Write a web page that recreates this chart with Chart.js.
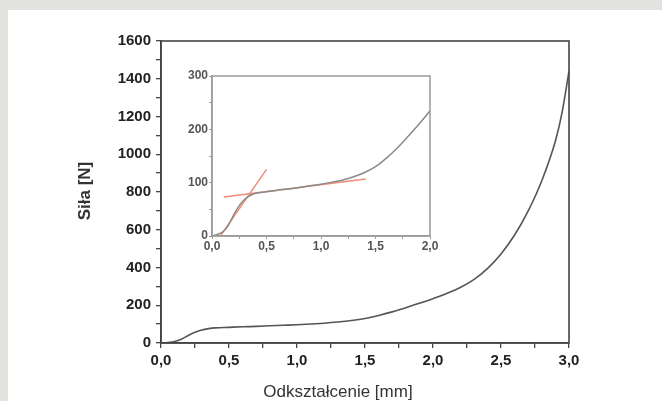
<!DOCTYPE html>
<html>
<head>
<meta charset="utf-8">
<script src="https://cdn.jsdelivr.net/npm/chart.js@4/dist/chart.umd.min.js"></script>
<style>
  html, body { margin: 0; padding: 0; }
  body { width: 662px; height: 401px; background: #e2e2de; position: relative; overflow: hidden; }
  #panel { position: absolute; left: 8px; top: 10px; right: 0; bottom: 0; background: #fff; }
  #main { position: absolute; left: 0; top: 0; }
  #inset { position: absolute; left: 160px; top: 66px; }
</style>
</head>
<body>
<div id="panel"></div>
<canvas id="main" width="662" height="401"></canvas>
<canvas id="inset" width="290" height="190"></canvas>
<script>
// deformation [mm] and force [N]
const deformation = [0, 0.05, 0.1, 0.15, 0.2, 0.25, 0.3, 0.35, 0.4, 0.5, 0.6, 0.7, 0.8, 0.9, 1.0,
  1.1, 1.2, 1.3, 1.4, 1.5, 1.6, 1.7, 1.8, 1.9, 2.0, 2.1, 2.2, 2.3, 2.4, 2.5, 2.6, 2.7, 2.8, 2.9, 2.95, 3.0];
const force = [0, 3, 8, 20, 40, 57, 69, 76, 80, 83, 86, 88, 91, 94, 97,
  101, 105, 111, 119, 130, 146, 165, 187, 210, 235, 262, 294, 336, 394, 472, 572, 700, 860, 1070, 1225, 1440];

// two red fit lines in the inset
const fitSteepX = [0.077, 0.5];
const fitSteepY = [0, 125];
const fitFlatX = [0.108, 1.41];
const fitFlatY = [73, 107];

const xTitle = "Odkształcenie [mm]";
const yTitle = "Siła [N]";

function toPoints(xs, ys) {
  return xs.map((x, i) => ({ x: x, y: ys[i] }));
}

function commaLabel(step) {
  return function (v) {
    const k = v / step;
    if (Math.abs(k - Math.round(k)) > 1e-6) return "";
    return v.toFixed(1).replace(".", ",");
  };
}

function intLabel(step) {
  return function (v) {
    return Math.abs(v % step) < 1e-6 ? String(v) : "";
  };
}

// box around the plot area
const framePlugin = {
  id: "frame",
  afterDraw(chart, args, opts) {
    const a = chart.chartArea;
    const ctx = chart.ctx;
    ctx.save();
    ctx.strokeStyle = opts.color;
    ctx.lineWidth = opts.width;
    ctx.strokeRect(a.left, a.top, a.right - a.left, a.bottom - a.top);
    ctx.restore();
  },
};

// axis titles of the main chart
const titlesPlugin = {
  id: "titles",
  afterDraw(chart) {
    const ctx = chart.ctx;
    ctx.save();
    ctx.fillStyle = "#333";
    ctx.textAlign = "center";
    ctx.textBaseline = "middle";
    ctx.font = "17px 'Liberation Sans', Arial, sans-serif";
    ctx.fillText(xTitle, 338, 392);
    ctx.translate(85, 191);
    ctx.rotate(-Math.PI / 2);
    ctx.font = "bold 17px 'Liberation Sans', Arial, sans-serif";
    ctx.fillText(yTitle, 0, 0);
    ctx.restore();
  },
};

Chart.defaults.font.family = "'Liberation Sans', Arial, sans-serif";
Chart.defaults.animation = false;

const mainAxisColor = "#444";

new Chart(document.getElementById("main"), {
  type: "line",
  data: {
    datasets: [
      {
        data: toPoints(deformation, force),
        borderColor: "#555",
        borderWidth: 1.6,
        pointRadius: 0,
        cubicInterpolationMode: "monotone",
      },
    ],
  },
  options: {
    responsive: false,
    layout: { padding: { left: 0, top: 41, right: 93, bottom: 0 } },
    plugins: {
      legend: { display: false },
      tooltip: { enabled: false },
      frame: { color: mainAxisColor, width: 1.6 },
    },
    scales: {
      x: {
        type: "linear",
        min: 0,
        max: 3,
        afterFit: (s) => { s.height = 58; },
        grid: { drawOnChartArea: false, tickLength: 5, color: mainAxisColor, lineWidth: 1.3 },
        border: { color: mainAxisColor, width: 1.6 },
        ticks: {
          stepSize: 0.25,
          autoSkip: false,
          maxRotation: 0,
          padding: 4,
          color: "#222",
          font: { size: 15, weight: "bold" },
          callback: commaLabel(0.5),
        },
      },
      y: {
        min: 0,
        max: 1600,
        afterFit: (s) => { s.width = 161; },
        grid: { drawOnChartArea: false, tickLength: 5, color: mainAxisColor, lineWidth: 1.3 },
        border: { color: mainAxisColor, width: 1.6 },
        ticks: {
          stepSize: 100,
          autoSkip: false,
          padding: 5,
          color: "#222",
          font: { size: 15, weight: "bold" },
          callback: intLabel(200),
        },
      },
    },
  },
  plugins: [framePlugin, titlesPlugin],
});

const insetAxisColor = "#9a9a9a";

new Chart(document.getElementById("inset"), {
  type: "line",
  data: {
    datasets: [
      {
        data: toPoints(deformation, force),
        borderColor: "#8a8a8a",
        borderWidth: 1.5,
        pointRadius: 0,
        cubicInterpolationMode: "monotone",
      },
      {
        data: toPoints(fitSteepX, fitSteepY),
        borderColor: "#f08a78",
        borderWidth: 1.5,
        pointRadius: 0,
      },
      {
        data: toPoints(fitFlatX, fitFlatY),
        borderColor: "#f08a78",
        borderWidth: 1.5,
        pointRadius: 0,
      },
    ],
  },
  options: {
    responsive: false,
    layout: { padding: { left: 0, top: 10, right: 20, bottom: 0 } },
    plugins: {
      legend: { display: false },
      tooltip: { enabled: false },
      frame: { color: insetAxisColor, width: 1.5 },
    },
    scales: {
      x: {
        type: "linear",
        min: 0,
        max: 2,
        afterFit: (s) => { s.height = 20; },
        grid: { drawOnChartArea: false, tickLength: 3, color: insetAxisColor },
        border: { color: insetAxisColor, width: 1.5 },
        ticks: {
          stepSize: 0.25,
          autoSkip: false,
          maxRotation: 0,
          padding: 0,
          color: "#555",
          font: { size: 12, weight: "bold" },
          callback: commaLabel(0.5),
        },
      },
      y: {
        min: 0,
        max: 300,
        afterFit: (s) => { s.width = 52; },
        grid: { drawOnChartArea: false, tickLength: 3, color: insetAxisColor },
        border: { color: insetAxisColor, width: 1.5 },
        ticks: {
          stepSize: 50,
          autoSkip: false,
          padding: 1,
          color: "#555",
          font: { size: 12, weight: "bold" },
          callback: intLabel(100),
        },
      },
    },
  },
  plugins: [framePlugin],
});
</script>
</body>
</html>
